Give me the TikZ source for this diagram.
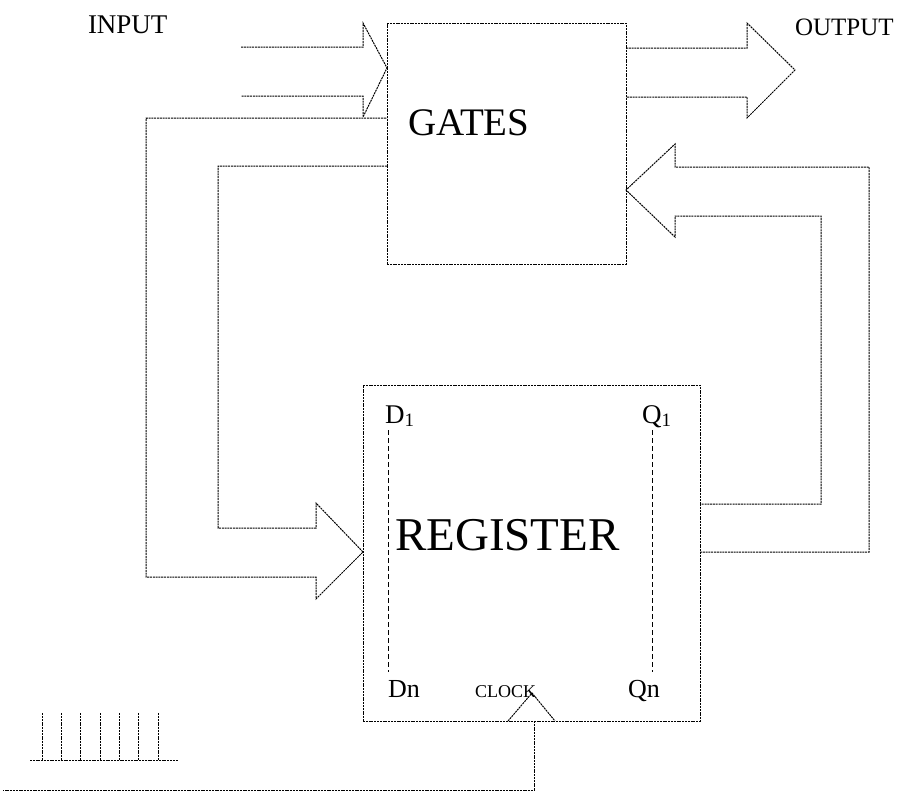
\documentclass[tikz,border=0pt]{standalone}
\usepackage{fontspec}
\setmainfont{Liberation Serif}
\begin{document}
\begin{tikzpicture}[x=1pt,y=-1pt,
  ln/.style={line width=1pt, dash pattern=on 2pt off 0.8pt, line join=miter},
  dl/.style={line width=1pt, dash pattern=on 5pt off 3pt},
  blk/.style={ln, draw, rectangle, inner sep=0pt, outer sep=0pt},
  lbl/.style={inner sep=0pt, outer sep=0pt, anchor=base west}]
\useasboundingbox (0,0) rectangle (902,796);
% blocks
\node[blk, minimum width=239pt, minimum height=241pt] (gates) at (506.5,143.5) {};
\node[blk, minimum width=337pt, minimum height=336pt] (reg) at (531.5,553) {};
% labels
\node[lbl, font=\fontsize{27}{27}\selectfont] (tin) at (88,33) {INPUT};
\node[lbl, font=\fontsize{25}{25}\selectfont] (tout) at (795,35) {OUTPUT};
\node[lbl, font=\fontsize{39}{39}\selectfont] (tg) at (408,135) {GATES};
\node[lbl, font=\fontsize{47}{47}\selectfont] (tr) at (395,550) {REGISTER};
\node[lbl, font=\fontsize{27}{27}\selectfont] (d1) at (385,423) {D\textsubscript{1}};
\node[lbl, font=\fontsize{27}{27}\selectfont] (q1) at (642,423) {Q\textsubscript{1}};
\node[lbl, font=\fontsize{26}{26}\selectfont] (dn) at (388,697) {Dn};
\node[lbl, font=\fontsize{26}{26}\selectfont] (qn) at (628,697) {Qn};
\node[lbl, font=\fontsize{18}{18}\selectfont] (clk) at (475,697) {CLOCK};
% input arrow
\draw[ln] (241,47) -- (363,47) -- (363,23) -- (gates.west |- 0,68) -- (363,117) -- (363,96) -- (241,96);
% output arrow
\draw[ln] (gates.east |- 0,48) -- (747,48) -- (747,23) -- (795,70) -- (747,118) -- (747,97) -- (gates.east |- 0,97);
% return arrow into gates
\draw[ln] (reg.east |- 0,552) -- (869,552) -- (869,167) -- (675,167) -- (675,144) -- (gates.east |- 0,190)
  -- (675,237) -- (675,216) -- (821,216) -- (821,504) -- (reg.east |- 0,504);
% feedback arrow into register
\draw[ln] (gates.west |- 0,166) -- (218,166) -- (218,528) -- (316,528) -- (316,503) -- (reg.west |- 0,552)
  -- (316,599) -- (316,577) -- (146,577) -- (146,118) -- (gates.west |- 0,118);
% dashed lines inside register
\draw[dl] (388,430) -- (388,672);
\draw[dl] (652,430) -- (652,672);
% clock input
\draw[ln] (508,721) -- (532,693) -- (555,721);
\coordinate (cend) at (3,790);
\draw[ln] (reg.south -| 534,0) -- (534,790) -- (cend);
% clock pulses
\draw[ln] (30,760) -- (178,760);
\foreach \x in {42,61.3,80.6,100,119.3,138.6,158}
  \draw[ln] (\x,760) -- (\x,713);
\end{tikzpicture}
\end{document}
